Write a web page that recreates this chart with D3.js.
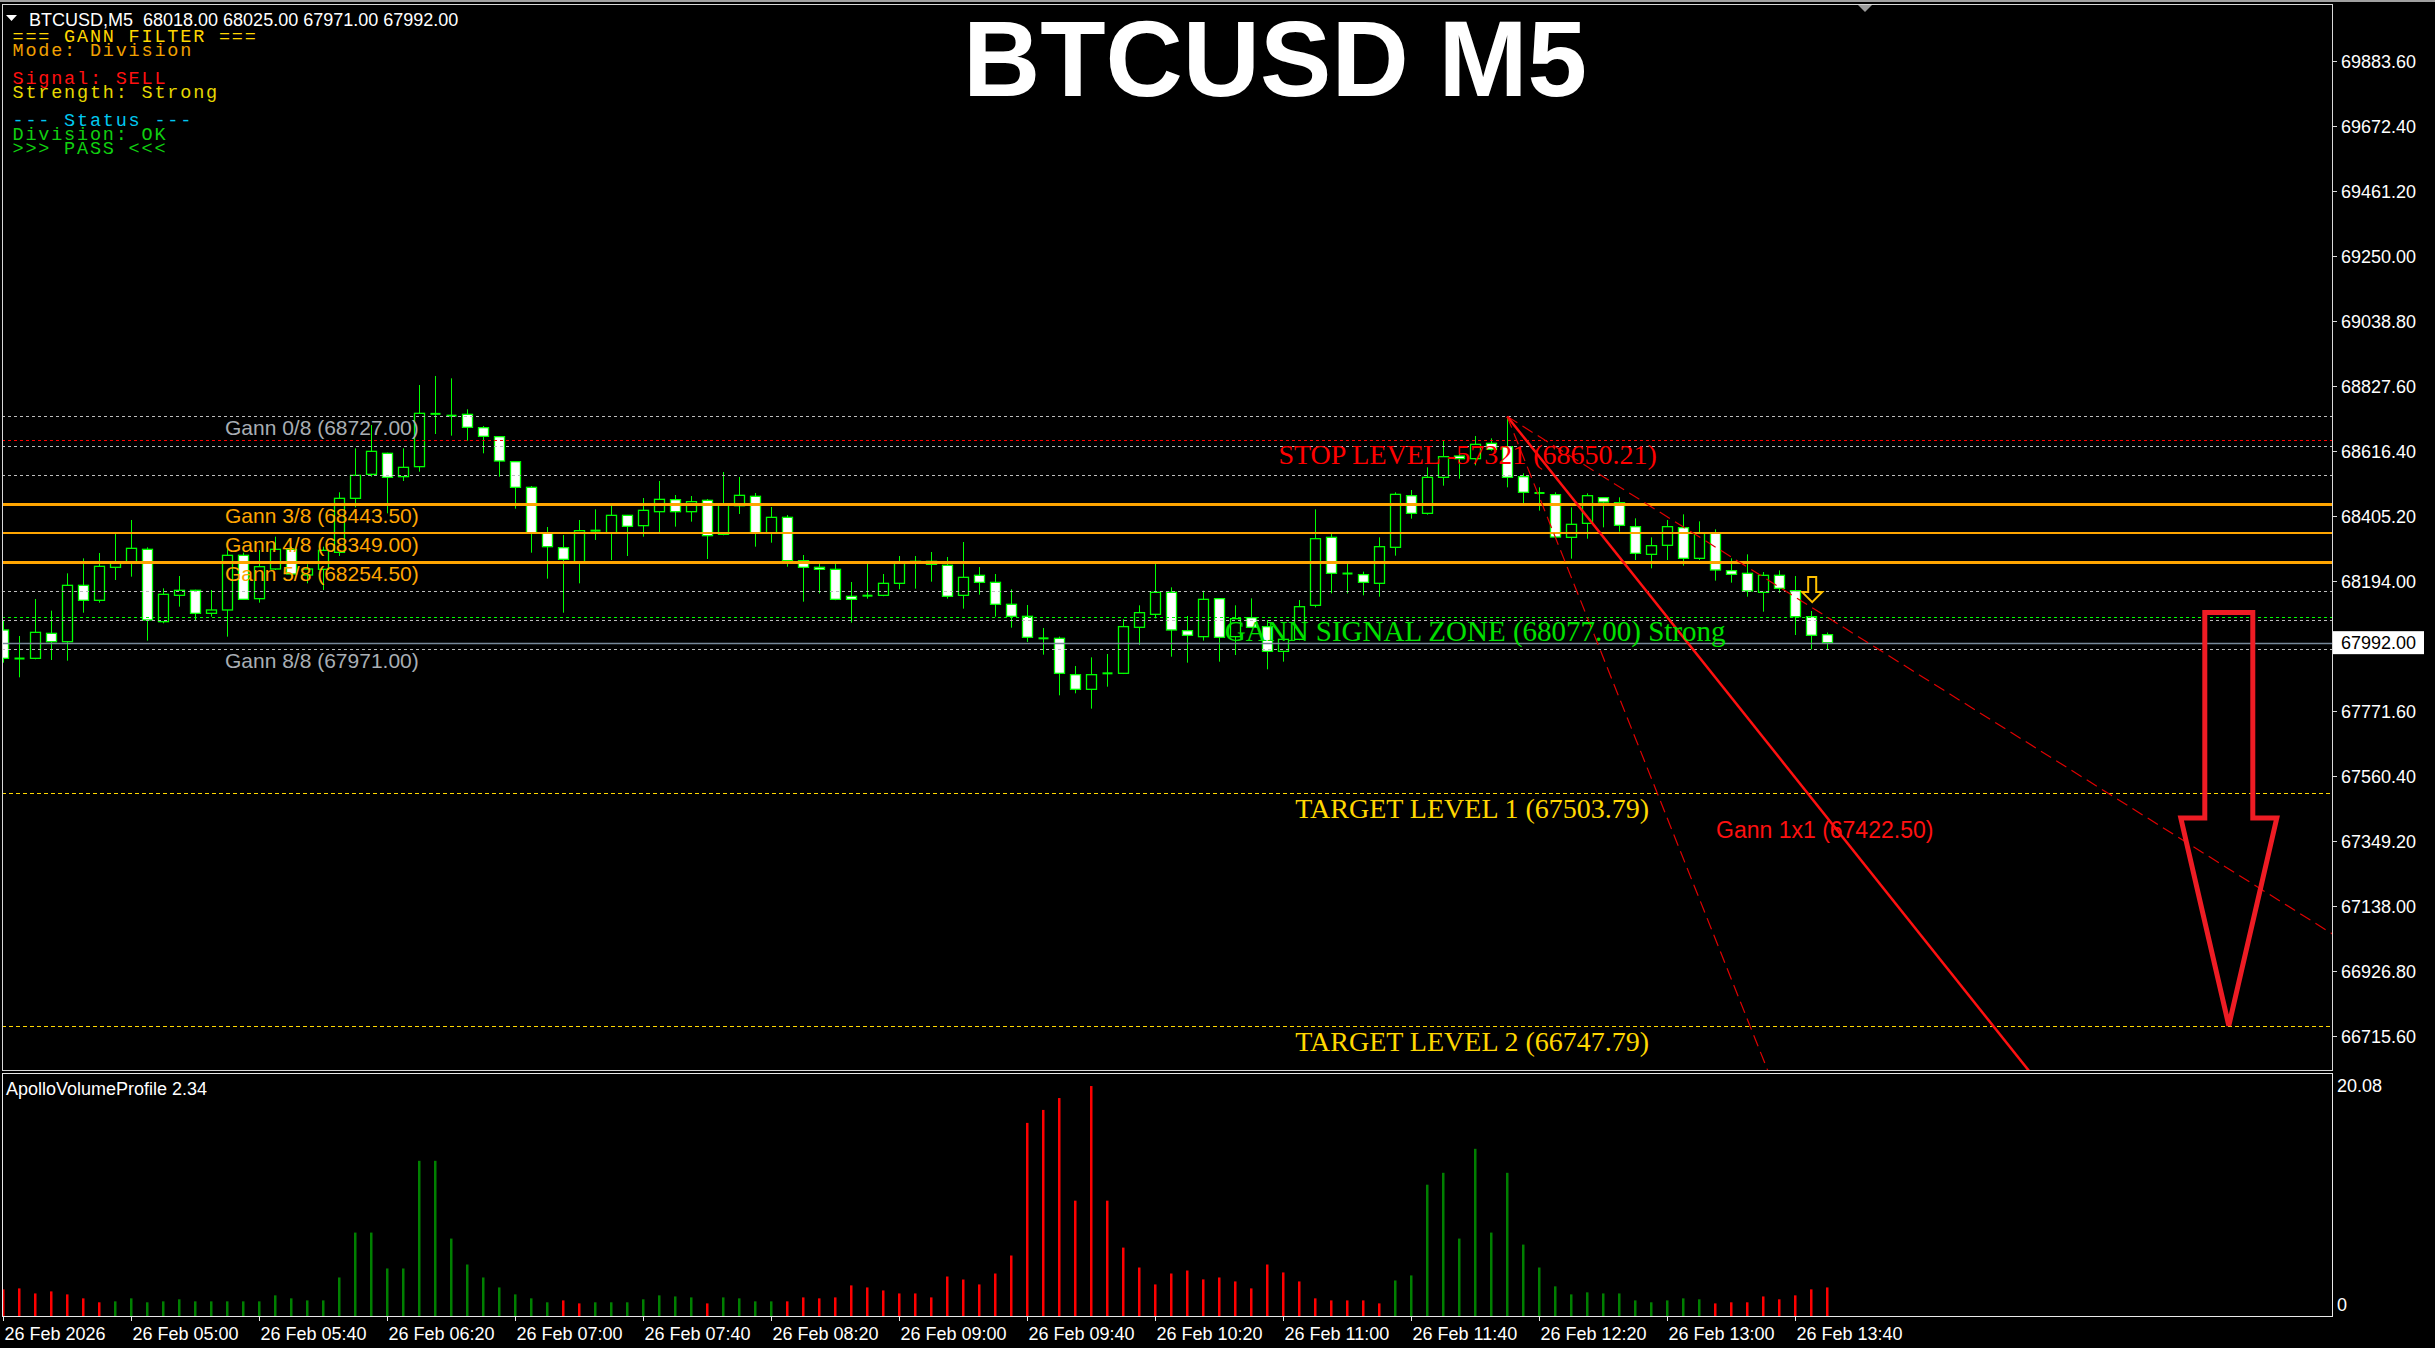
<!DOCTYPE html>
<html><head><meta charset="utf-8">
<script src="https://cdn.jsdelivr.net/npm/d3@7/dist/d3.min.js"></script>
<style>
html,body{margin:0;padding:0;background:#000;overflow:hidden}
svg{display:block}
</style></head><body>
<script>
// ---------------- DATA ----------------
const symbolHeader = "BTCUSD,M5  68018.00 68025.00 67971.00 67992.00";
const chartTitle = "BTCUSD M5";
const opens = [68033.2,67941,67941.1,68022.3,67995.2,68178.3,68129.6,68236.8,68249.8,68295.3,
68060.3,68145.8,68162.1,68087.3,68098.2,68275.8,68135.0,68231.4,68295.3,68211.9,
68230.3,68285.5,68461.0,68539.0,68607.2,68531.4,68563.9,68735,68730.7,68733.9,
68690.6,68661.3,68580.1,68496.7,68347.3,68300.7,68253.0,68355,68349.4,68405.7,
68372.2,68417.6,68456.6,68417.6,68454.5,68344.0,68437.1,68467.5,68347.3,68399.2,
68258.4,68236.8,68230.3,68142.6,68143.6,68145.8,68184.8,68249.8,68256.3,68243.3,
68145.8,68210.8,68188.0,68116.6,68077.6,68007.2,68006.1,67888.0,67840.4,67891.3,
67892.4,68041.9,68084.1,68155.6,68031.0,68011.5,68135.0,68011.5,68073.2,68044.1,
67963.8,68002.8,68113.3,68334.2,68217.3,68213.0,68184.8,68301.8,68469.6,68412.2,
68529.2,68598.5,68589.9,68639.7,68628.9,68531.4,68479.4,68472.9,68334.2,68379.7,
68463.1,68446.9,68368.9,68279.0,68308.3,68365.7,68266.0,68349.4,68225.9,68217.3,
68155.6,68210.8,68161.0,68076.5,68018];
const highs = [68063.5,68013.7,68133.9,68096.0,68217.3,68265.9,68283.4,68349.4,68390.6,68301.8,
68168.6,68208.6,68164,68163.1,68296.4,68284.4,68293.1,68336.4,68303.9,68246.5,
68303.9,68480.5,68623.4,68699.2,68609.4,68623.4,68829.2,68858.5,68850.9,68750.2,
68696.0,68663.5,68582,68501.0,68367.8,68341.8,68390.6,68425.2,68439.3,68407,
68462.0,68517.3,68471.8,68468.6,68458.8,68546.5,68530.3,68478.3,68432.8,68406.8,
68276.9,68255.2,68249.8,68189.1,68250.9,68215.1,68273.6,68273.6,68286.6,68270.4,
68319.1,68237.9,68215.1,68165.3,68114.4,68039.7,68011.5,67916.2,67944.3,67955.2,
68067.8,68113.3,68254.1,68171.8,68078.7,68161.0,68137,68113.3,68136.0,68065.6,
68033.2,68130.6,68425.2,68347.3,68250.9,68222.7,68334.2,68480.5,68488.0,68561.7,
68647.3,68605.0,68663.5,68655.9,68727,68542.2,68496.7,68480.5,68431.7,68477.2,
68465,68464.2,68396.0,68334.2,68390.6,68409.0,68386.2,68360.2,68266.0,68279.0,
68221.6,68227.0,68208.6,68094.9,68025];
const lows = [67927.0,67879.4,67938,67935.7,67933.5,68089.5,68122.0,68195.6,68206.5,67998.5,
68054.9,68109.0,68065.7,68076.5,68011.5,68130.6,68122.0,68228.1,68206.5,68184.8,
68163.1,68273.6,68431.7,68531.4,68412.2,68517.3,68547.6,68670.0,68664.6,68648.4,
68607.2,68531.4,68427.4,68284.4,68199.9,68089.5,68184.8,68325.6,68260.6,68273.6,
68336.4,68345.1,68369.0,68385.2,68263.8,68341,68410.1,68303.9,68316.9,68238.9,
68125.2,68152.3,68130,68057.0,68135.0,68143,68165.3,68167.5,68190.2,68135.0,
68102.5,68148.0,68076.5,68040.8,67994.2,67953.0,67820.9,67827.4,67777.6,67849.0,
67890,67984.4,68071.1,67946.6,67927.0,67998.5,67930.3,67951.9,68040,67905.4,
67930.3,68000,68106.8,68152.3,68152.3,68145.8,68141.5,68274.7,68394.9,68407.9,
68502.1,68524.9,68568.2,68615.9,68496.7,68438.2,68421.0,68332,68265.0,68329.9,
68366.7,68352.7,68260.6,68233.5,68260.6,68242.2,68260.6,68193.5,68187.0,68141.5,
68092.7,68154.5,68016.9,67970.3,67971];
const closes = [67941.1,67940,68025.6,67995.2,68178.3,68129.6,68240.0,68254.1,68298.5,68065.7,
68149.1,68162.1,68087.3,68098.2,68275.8,68132.8,68238.9,68295.3,68215.1,68231.4,
68292.0,68461.0,68535.7,68613.7,68529.2,68561.7,68737.2,68736,68728.5,68691.7,
68662.4,68582.3,68496.7,68347.3,68303.9,68262.8,68355.9,68357,68405.7,68370.0,
68422.0,68457.7,68417.6,68450.2,68339.7,68438.2,68470.7,68347.3,68399.2,68258.4,
68236.8,68230.3,68132.8,68132.8,68145.8,68184.8,68249.8,68256.3,68246.5,68142.6,
68204.3,68188.0,68116.6,68077.6,68009.4,68005.0,67892.4,67840.4,67888.0,67893.4,
68044.1,68089.5,68155.6,68033.2,68015.9,68132.8,68009.4,68070.0,68041.9,67963.8,
68002.8,68108.9,68329.9,68217.3,68216,68188.0,68303.9,68473.9,68412.2,68529.2,
68596.4,68589.9,68636.4,68620.2,68529.2,68480.5,68477.2,68335.3,68376.5,68469.6,
68449.1,68373.2,68282.3,68307.2,68368.9,68266.0,68349.4,68228.1,68214.0,68159.9,
68210.8,68168.6,68076.5,68015.9,67992];
const volumes = [2.22,2.30,1.88,2.05,1.80,1.47,1.14,1.22,1.47,1.14,
1.22,1.39,1.22,1.22,1.22,1.22,1.22,1.72,1.47,1.30,
1.30,3.21,6.95,6.95,3.96,3.96,12.93,12.93,6.45,4.29,
3.21,2.38,1.80,1.47,1.14,1.30,1.05,1.14,1.14,1.14,
1.39,1.72,1.63,1.55,1.05,1.55,1.47,1.22,1.22,1.22,
1.55,1.47,1.55,2.55,2.38,2.13,1.88,1.88,1.55,3.29,
3.04,2.63,3.54,5.04,16.09,17.17,18.16,9.61,19.16,9.61,
5.70,4.04,2.63,3.54,3.79,3.05,3.21,2.88,2.30,4.29,
3.63,2.88,1.47,1.30,1.30,1.30,1.05,2.96,3.38,10.94,
11.93,6.45,13.93,6.95,11.93,5.95,4.04,2.47,1.80,1.97,
1.88,1.88,1.30,1.14,1.30,1.47,1.39,1.05,1.14,1.14,
1.63,1.39,1.72,2.22,2.38];
const volumeSide = ("RRRRRRRGGG GGGGGGGGGG GGGGGGGGGG GGGGGRRGGG GGGGRGGGGR " +
  "RRRRRRRRRR RRRRRRRRRR RRRRRRRRRR RRRRRRRGGG GGGGGGGGGG GGGGGGGRRR RRRRR").replace(/ /g,"").split("");
const timeTickBars = [0,8,16,24,32,40,48,56,64,72,80,88,96,104,112];
const timeTickLabels = ["26 Feb 2026","26 Feb 05:00","26 Feb 05:40","26 Feb 06:20","26 Feb 07:00",
  "26 Feb 07:40","26 Feb 08:20","26 Feb 09:00","26 Feb 09:40","26 Feb 10:20","26 Feb 11:00",
  "26 Feb 11:40","26 Feb 12:20","26 Feb 13:00","26 Feb 13:40"];
const priceTicks = [66715.6,66926.8,67138.0,67349.2,67560.4,67771.6,67982.8,68194.0,68405.2,
  68616.4,68827.6,69038.8,69250.0,69461.2,69672.4,69883.6];
const volumeAxisMax = 20.08;
const currentPrice = 67992.00;
const gannNames = ["Gann 0/8","Gann 1/8","Gann 2/8","Gann 3/8","Gann 4/8","Gann 5/8","Gann 6/8","Gann 7/8","Gann 8/8"];
const gannPrices = [68727.00,68632.50,68538.00,68443.50,68349.00,68254.50,68160.00,68065.50,67971.00];
const gannLabelled = [true,false,false,true,true,true,false,false,true];
const stopLevel = 68650.21, stopText = "STOP LEVEL -57321 (68650.21)";
const signalZone = 68077.00, signalText = "GANN SIGNAL ZONE (68077.00) Strong";
const targetLevels = [67503.79, 66747.79];
const targetTexts = ["TARGET LEVEL 1 (67503.79)","TARGET LEVEL 2 (66747.79)"];
const gann1x1Price = 67422.50, gann1x1Text = "Gann 1x1 (67422.50)";
const fanApexBar = 94, fanApexPrice = 68727.00;
const fanSlopes = [32.6, 65.2, 130.5];   // price drop per bar
const sellArrowBar = 113, sellArrowPrice = 68205;
const bigArrowBar = 139.1, bigArrowTop = 68090, bigArrowShoulder = 67422.5, bigArrowTip = 66747.79;
const panelLines = [
  {t:"=== GANN FILTER ===", c:"#ffd700"},
  {t:"Mode: Division", c:"#f0a000"},
  {t:"", c:"#000"},
  {t:"Signal: SELL", c:"#ff1010"},
  {t:"Strength: Strong", c:"#e6d800"},
  {t:"", c:"#000"},
  {t:"--- Status ---", c:"#00c8f0"},
  {t:"Division: OK", c:"#10d010"},
  {t:">>> PASS <<<", c:"#10d010"}];
const subTitle = "ApolloVolumeProfile 2.34";

// ---------------- DRAW ----------------
const W = 2435, H = 1348;
const L = 2, T = 4, R = 2332, MB = 1070, ST = 1073, SB = 1316;
const svg = d3.select("body").append("svg").attr("width", W).attr("height", H);
svg.append("rect").attr("width", W).attr("height", H).attr("fill", "#000");
svg.append("rect").attr("x",0).attr("y",0).attr("width",W).attr("height",2).attr("fill","#a0a0a0");

const x = d3.scaleLinear().domain([0, 114]).range([3.2, 3.2 + 16 * 114]);
const y = d3.scaleLinear().domain([66715.6, 69883.6]).range([1035.5, 60.5]);
const vy = d3.scaleLinear().domain([0, volumeAxisMax]).range([SB, ST + 2]);

svg.append("clipPath").attr("id","mainClip").append("rect")
  .attr("x", L+1).attr("y", T+1).attr("width", R-L-1).attr("height", MB-T-1);
const main = svg.append("g").attr("clip-path","url(#mainClip)");

// candles
const idx = d3.range(opens.length);
const cg = main.append("g");
idx.forEach(i => {
  const cx = Math.round(x(i)) + 0.5;
  const o = opens[i], c = closes[i];
  cg.append("line").attr("x1",cx).attr("x2",cx)
    .attr("y1", y(highs[i])).attr("y2", y(lows[i]))
    .attr("stroke","#00ff00").attr("stroke-width",1);
  const top = y(Math.max(o,c)), bot = y(Math.min(o,c));
  if (bot - top < 2) {
    cg.append("line").attr("x1",cx-5).attr("x2",cx+5)
      .attr("y1",(top+bot)/2).attr("y2",(top+bot)/2)
      .attr("stroke","#00ff00").attr("stroke-width",2);
  } else {
    cg.append("rect").attr("x",cx-5).attr("y",top).attr("width",10).attr("height",bot-top)
      .attr("fill", c < o ? "#ffffff" : "#000000")
      .attr("stroke","#00ff00").attr("stroke-width",1.3);
  }
});

// horizontal levels
const hl = main.append("g");
function hline(p, color, width, dash) {
  const yy = Math.round(y(p)) + (width % 2 ? 0.5 : 0);
  hl.append("line").attr("x1",L).attr("x2",R).attr("y1",yy).attr("y2",yy)
    .attr("stroke",color).attr("stroke-width",width)
    .attr("stroke-dasharray", dash || null);
}
gannPrices.forEach((p,k) => {
  if (k === 3 || k === 5) hline(p, "#ffa500", 3);
  else if (k === 4) hline(p, "#ffa500", 2);
  else hline(p, "#bdbdbd", 1, "3,3");
});
hline(stopLevel, "#ff0000", 1, "3,3");
hline(signalZone, "#00ff00", 1, "3,3");
hline(currentPrice, "#778899", 1.5);
targetLevels.forEach(p => hline(p, "#ffd700", 1, "4,3"));

// fan lines
const fan = main.append("g");
const endBar = 160;
fanSlopes.forEach((s,k) => {
  fan.append("line")
    .attr("x1", x(fanApexBar)).attr("y1", y(fanApexPrice))
    .attr("x2", x(endBar)).attr("y2", y(fanApexPrice - s*(endBar - fanApexBar)))
    .attr("stroke", k===1 ? "#ff1010" : "#e00000")
    .attr("stroke-width", k===1 ? 2.5 : 1.2)
    .attr("stroke-dasharray", k===1 ? null : "12,6");
});

// texts in chart
const tx = main.append("g");
gannPrices.forEach((p,k) => {
  if (!gannLabelled[k]) return;
  tx.append("text").attr("x", x(13.86)).attr("y", y(p) + 19)
    .attr("font-family","Liberation Sans, Arial, sans-serif").attr("font-size",21)
    .attr("fill", (k>=3 && k<=5) ? "#ffa500" : "#a8aeb4")
    .text(gannNames[k] + " (" + d3.format(".2f")(p) + ")");
});
tx.append("text").attr("x", x(79.7)).attr("y", y(stopLevel) + 24)
  .attr("font-family","Liberation Serif, Times New Roman, serif").attr("font-size",28)
  .attr("fill","#ff0000").text(stopText);
tx.append("text").attr("x", x(76.35)).attr("y", y(signalZone) + 24)
  .attr("font-family","Liberation Serif, Times New Roman, serif").attr("font-size",29)
  .attr("fill","#00e000").text(signalText);
targetLevels.forEach((p,k) => {
  tx.append("text").attr("x", x(80.75)).attr("y", y(p) + 25)
    .attr("font-family","Liberation Serif, Times New Roman, serif").attr("font-size",28)
    .attr("fill","#ffd700").text(targetTexts[k]);
});
tx.append("text").attr("x", x(107.05)).attr("y", y(gann1x1Price) + 20)
  .attr("font-family","Liberation Sans, Arial, sans-serif").attr("font-size",23)
  .attr("fill","#ff1010").text(gann1x1Text);

// small sell arrow
{
  const cx = x(sellArrowBar) + 1, ty = y(sellArrowPrice);
  const pts = [[cx-4,ty],[cx+4,ty],[cx+4,ty+15],[cx+10,ty+15],[cx,ty+25],[cx-10,ty+15],[cx-4,ty+15]];
  main.append("polygon").attr("points", pts.map(p=>p.join(",")).join(" "))
    .attr("fill","#000").attr("stroke","#ffc000").attr("stroke-width",2);
}
// big arrow
{
  const cx = x(bigArrowBar);
  const t = y(bigArrowTop), s = y(bigArrowShoulder), tip = y(bigArrowTip);
  const pts = [[cx-24,t],[cx+24,t],[cx+24,s],[cx+48,s],[cx,tip],[cx-48,s],[cx-24,s]];
  main.append("polygon").attr("points", pts.map(p=>p.join(",")).join(" "))
    .attr("fill","none").attr("stroke","#ee1c24").attr("stroke-width",5)
    .attr("stroke-linejoin","miter");
}

// header texts
svg.append("polygon").attr("points","6,15 17,15 11.5,21").attr("fill","#fff");
svg.append("text").attr("x",29).attr("y",26)
  .attr("font-family","Liberation Sans, Arial, sans-serif").attr("font-size",18)
  .attr("fill","#fff").style("white-space","pre").text(symbolHeader);
panelLines.forEach((d,k) => {
  if (!d.t) return;
  svg.append("text").attr("x",12.5).attr("y",42 + k*14)
    .attr("font-family","Liberation Mono, Courier New, monospace").attr("font-size",18.5)
    .attr("letter-spacing",1.8)
    .attr("fill",d.c).style("white-space","pre").text(d.t);
});
svg.append("text").attr("x",1275).attr("y",96).attr("text-anchor","middle")
  .attr("font-family","Liberation Sans, Arial, sans-serif").attr("font-weight","bold")
  .attr("font-size",107).attr("fill","#fff").text(chartTitle);
svg.append("polygon").attr("points","1857,4 1873,4 1865,12").attr("fill","#9a9a9a");

// volume bars
const vg = svg.append("g");
idx.forEach(i => {
  const cx = Math.round(x(i));
  vg.append("rect").attr("x", cx-1).attr("width",2.5)
    .attr("y", vy(volumes[i])).attr("height", SB - vy(volumes[i]))
    .attr("fill", volumeSide[i]==="R" ? "#ff0000" : "#008000");
});
svg.append("text").attr("x",6).attr("y",1095)
  .attr("font-family","Liberation Sans, Arial, sans-serif").attr("font-size",18)
  .attr("fill","#fff").text(subTitle);

// frames
svg.append("rect").attr("x",L+0.5).attr("y",T+0.5).attr("width",R-L).attr("height",MB-T)
  .attr("fill","none").attr("stroke","#d8d8d8").attr("stroke-width",1);
svg.append("rect").attr("x",L+0.5).attr("y",ST+0.5).attr("width",R-L).attr("height",SB-ST)
  .attr("fill","none").attr("stroke","#e8e8e8").attr("stroke-width",1);

// price axis
const ay = svg.append("g");
priceTicks.forEach(p => {
  const yy = Math.round(y(p)) + 0.5;
  ay.append("line").attr("x1",R).attr("x2",R+5).attr("y1",yy).attr("y2",yy).attr("stroke","#d8d8d8");
  ay.append("text").attr("x",R+9).attr("y",yy).attr("dy","0.36em")
    .attr("font-family","Liberation Sans, Arial, sans-serif").attr("font-size",18)
    .attr("fill","#fff").text(d3.format(".2f")(p));
});
{
  const yy = y(currentPrice);
  ay.append("rect").attr("x",R+1).attr("y",yy-11.5).attr("width",91).attr("height",23).attr("fill","#fff");
  ay.append("text").attr("x",R+9).attr("y",yy).attr("dy","0.36em")
    .attr("font-family","Liberation Sans, Arial, sans-serif").attr("font-size",18)
    .attr("fill","#000").text(d3.format(".2f")(currentPrice));
}
ay.append("text").attr("x",R+5).attr("y",1086).attr("dy","0.36em")
  .attr("font-family","Liberation Sans, Arial, sans-serif").attr("font-size",18)
  .attr("fill","#fff").text(d3.format(".2f")(volumeAxisMax));
ay.append("text").attr("x",R+5).attr("y",1305).attr("dy","0.36em")
  .attr("font-family","Liberation Sans, Arial, sans-serif").attr("font-size",18)
  .attr("fill","#fff").text("0");

// time axis
const ax = svg.append("g");
timeTickBars.forEach((b,k) => {
  const xx = Math.round(x(b)) + 0.5;
  ax.append("line").attr("x1",xx).attr("x2",xx).attr("y1",SB).attr("y2",SB+5).attr("stroke","#e8e8e8");
  ax.append("text").attr("x",xx+1).attr("y",1340)
    .attr("font-family","Liberation Sans, Arial, sans-serif").attr("font-size",18)
    .attr("fill","#fff").text(timeTickLabels[k]);
});
</script>
</body></html>
